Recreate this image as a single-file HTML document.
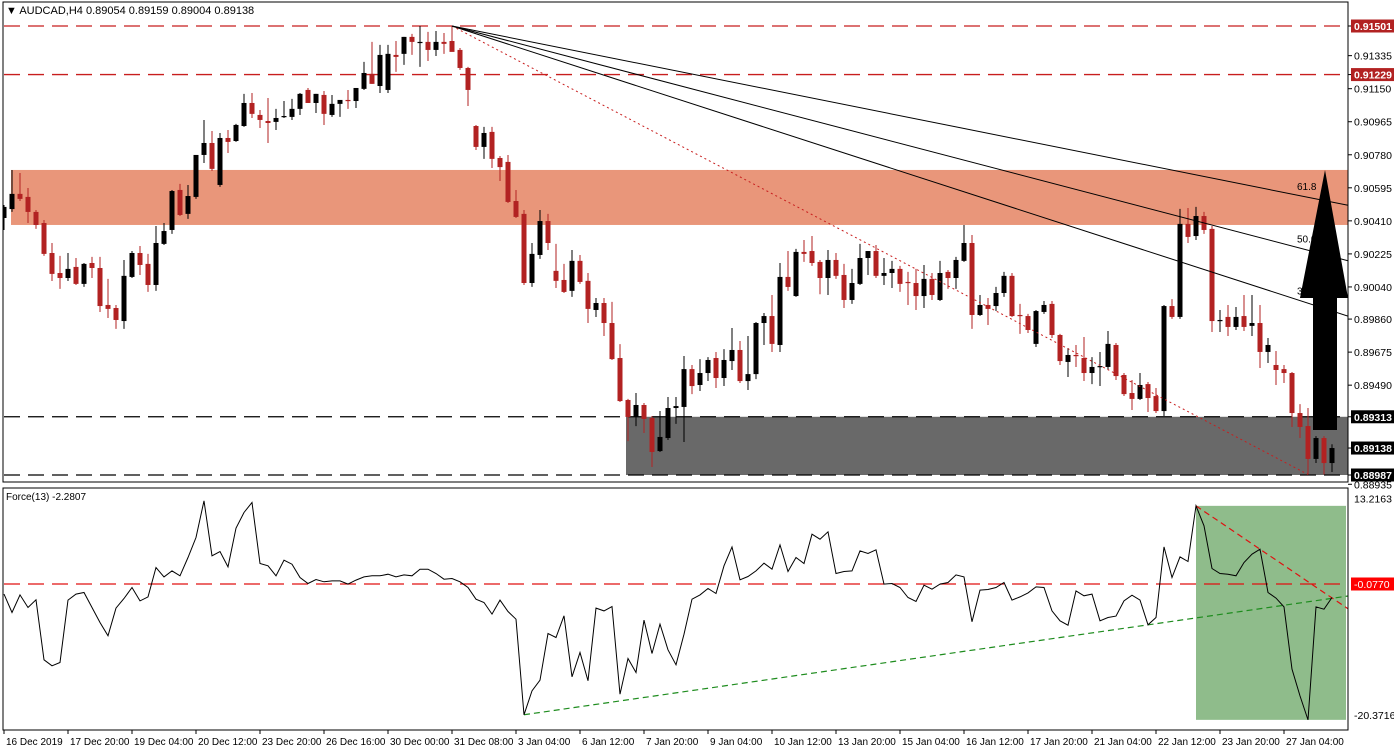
<!DOCTYPE html>
<html><head><meta charset="utf-8">
<style>
html,body{margin:0;padding:0;background:#fff;}
svg{display:block;font-family:"Liberation Sans","DejaVu Sans",sans-serif;}
</style></head>
<body>
<svg id="chart" width="1394" height="752" viewBox="0 0 1394 752" xmlns="http://www.w3.org/2000/svg">
<defs>
<clipPath id="pclip"><rect x="3" y="2" width="1345" height="480"/></clipPath>
<clipPath id="fclip"><rect x="3" y="488" width="1345" height="242"/></clipPath>
</defs>
<rect x="0" y="0" width="1394" height="752" fill="#fff"/>
<g id="priceBg" clip-path="url(#pclip)"></g>
<g id="priceMarks" clip-path="url(#pclip)"></g>
<g id="forceG" clip-path="url(#fclip)"></g>
<g id="axes"></g>
<text x="6" y="14" font-size="11" fill="#000">▼ AUDCAD,H4  0.89054 0.89159 0.89004 0.89138</text>
<text x="6" y="500" font-size="10" fill="#000">Force(13) -2.2807</text>
</svg>
<script>
const openP=[.90426,.90476,.90561,.90544,.90460,.90398,.90230,.90118,.90090,.90152,
.90057,.90174,.90146,.89939,.89922,.89849,.90096,.90230,.90169,.90051,
.90281,.90359,.90583,.90449,.90544,.90779,.90846,.90611,.90874,.90857,
.90941,.91070,.91003,.90969,.90964,.90992,.90992,.91037,.91143,.91070,
.91115,.91003,.91065,.91087,.91081,.91149,.91233,.91165,.91143,.91339,
.91345,.91440,.91406,.91412,.91367,.91412,.91417,.91367,.91266,.90941,
.90824,.90908,.90762,.90740,.90521,.90449,.90062,.90219,.90409,.90130,
.90079,.90018,.90186,.90074,.89911,.89950,.89838,.89642,.89407,.89312,
.89379,.89306,.89121,.89194,.89362,.89368,.89580,.89491,.89558,.89642,
.89530,.89625,.89687,.89513,.89552,.89838,.89877,.89715,.90096,.89989,
.90236,.90241,.90180,.90090,.90191,.90107,.89967,.90057,.90202,.90241,
.90102,.90118,.90141,.90068,.90062,.89989,.90085,.89967,.90124,.90090,
.90186,.90286,.89883,.89939,.89933,.90006,.90102,.89883,.89877,.89721,
.89900,.89945,.89771,.89620,.89659,.89642,.89558,.89592,.89592,.89715,
.89547,.89446,.89413,.89496,.89429,.89345,.89933,.89872,.90393,.90325,
.90437,.90365,.89849,.89872,.89816,.89877,.89822,.89838,.89676,.89603,
.89580,.89558,.89334,.89261,.89077,.89194,.89054];
const highP=[.90499,.90695,.90678,.90594,.90471,.90415,.90286,.90214,.90230,.90202,
.90174,.90208,.90208,.90085,.89939,.90191,.90241,.90269,.90225,.90381,
.90398,.90583,.90617,.90611,.90561,.90975,.90913,.90902,.90919,.90953,
.91121,.91126,.91031,.91098,.91037,.91081,.91093,.91126,.91154,.91121,
.91137,.91115,.91087,.91143,.91154,.91300,.91412,.91395,.91395,.91417,
.91440,.91457,.91501,.91468,.91473,.91462,.91501,.91378,.91272,.90947,
.90936,.90936,.90773,.90779,.90583,.90471,.90286,.90471,.90449,.90281,
.90169,.90247,.90219,.90118,.89978,.89978,.89956,.89720,.89413,.89446,
.89390,.89317,.89345,.89424,.89424,.89653,.89603,.89636,.89647,.89676,
.89692,.89810,.89737,.89765,.89844,.89894,.89995,.90174,.90241,.90253,
.90303,.90325,.90191,.90247,.90230,.90169,.90141,.90281,.90241,.90275,
.90202,.90186,.90158,.90124,.90141,.90163,.90118,.90186,.90135,.90208,
.90387,.90331,.89995,.89978,.90040,.90124,.90118,.89945,.89889,.89911,
.89961,.89961,.89777,.89698,.89715,.89760,.89647,.89676,.89793,.89726,
.89558,.89519,.89558,.89508,.89474,.89939,.89972,.90477,.90482,.90488,
.90460,.90381,.89911,.89939,.89928,.89995,.89995,.89939,.89754,.89681,
.89603,.89564,.89384,.89362,.89205,.89205,.89159];
const lowP=[.90359,.90460,.90521,.90398,.90365,.90214,.90073,.90029,.90073,.90051,
.90040,.90090,.89900,.89866,.89805,.89805,.90090,.90107,.90012,.90018,
.90275,.90337,.90437,.90421,.90533,.90734,.90689,.90600,.90790,.90852,
.90936,.90986,.90930,.90846,.90919,.90986,.90975,.91003,.91070,.91014,
.90947,.90992,.90992,.91037,.91042,.91143,.91177,.91126,.91126,.91244,
.91283,.91339,.91272,.91305,.91333,.91345,.91361,.91255,.91053,.90807,
.90757,.90706,.90633,.90510,.90426,.90051,.90040,.90197,.90247,.90034,
.90006,.89984,.90057,.89838,.89872,.89765,.89631,.89396,.89177,.89261,
.89222,.89032,.89116,.89183,.89273,.89172,.89440,.89457,.89513,.89474,
.89485,.89575,.89502,.89463,.89524,.89715,.89676,.89676,.90018,.89984,
.90180,.90158,.89999,.89995,.90085,.89922,.89945,.90051,.90107,.90090,
.90051,.90034,.90012,.89939,.89911,.89922,.89967,.89961,.90029,.90029,
.90180,.89805,.89877,.89827,.89905,.89984,.89872,.89777,.89782,.89704,
.89889,.89754,.89603,.89536,.89592,.89513,.89496,.89485,.89575,.89519,
.89429,.89351,.89407,.89340,.89334,.89317,.89861,.89861,.90286,.90303,
.90337,.89788,.89788,.89765,.89799,.89793,.89765,.89586,.89614,.89491,
.89502,.89256,.89194,.88990,.89054,.88990,.89004];
const closeP=[.90488,.90561,.90533,.90460,.90387,.90225,.90113,.90090,.90141,.90057,
.90169,.90146,.89933,.89917,.89855,.90102,.90230,.90163,.90051,.90286,
.90353,.90577,.90443,.90549,.90779,.90846,.90701,.90874,.90852,.90947,
.91070,.91009,.90975,.90958,.90986,.90997,.91037,.91121,.91070,.91121,
.91009,.91065,.91087,.91081,.91154,.91238,.91177,.91339,.91345,.91328,
.91440,.91412,.91412,.91367,.91412,.91401,.91356,.91266,.91143,.90824,
.90902,.90757,.90711,.90516,.90432,.90062,.90225,.90409,.90286,.90074,
.90012,.90186,.90068,.89917,.89950,.89838,.89636,.89401,.89312,.89379,
.89301,.89116,.89200,.89362,.89373,.89580,.89485,.89558,.89631,.89530,
.89631,.89687,.89513,.89552,.89838,.89877,.89721,.90096,.90040,.90236,
.90225,.90174,.90090,.90191,.90102,.89967,.90062,.90202,.90241,.90102,
.90118,.90141,.90057,.90062,.89989,.90085,.89995,.90118,.90090,.90191,
.90286,.89883,.89939,.89917,.90006,.90102,.89877,.89877,.89799,.89905,
.89939,.89771,.89625,.89659,.89653,.89558,.89592,.89597,.89721,.89541,
.89440,.89413,.89491,.89418,.89345,.89933,.89872,.90393,.90320,.90437,
.90359,.89849,.89855,.89816,.89872,.89816,.89838,.89676,.89715,.89575,
.89558,.89334,.89256,.89077,.89194,.89054,.89138];
const forceV=[-1.65,-4.5,-1.76,-3.72,-2.53,-11.83,-12.76,-12.25,-2.58,-1.65,
-1.40,-3.72,-6.05,-8.11,-3.82,-2.33,-0.62,-2.69,-2.07,2.48,
1.03,1.96,1.19,4.03,7.13,12.82,4.29,4.96,2.58,8.58,
11.01,12.56,3.10,2.74,1.19,3.62,3.00,0.93,0,0.62,
0.26,0.41,0.41,-0.10,0.52,1.03,1.19,1.19,1.45,1.03,
1.34,1.19,2.22,2.22,1.55,0.67,0.78,0.26,-0.62,-2.43,
-2.95,-4.75,-2.58,-4.34,-5.53,-20.35,-16.64,-14.99,-7.75,-8.37,
-5.01,-14.47,-10.70,-15.09,-3.82,-4.24,-3.57,-17.16,-11.63,-13.80,
-5.68,-10.85,-6.30,-10.28,-12.61,-7.86,-2.43,-1.76,-0.78,-1.55,
2.74,5.68,0.57,1.09,1.96,3.15,2.22,5.99,1.86,4.03,
3.10,7.65,6.87,8.01,1.55,1.86,1.96,5.06,4.65,5.22,
-0.10,0,-0.62,-2.17,-2.79,-0.26,-0.88,-0.10,0.16,1.34,
1.03,-5.94,-1.03,-0.93,-0.62,0.16,-2.58,-2.07,-1.45,-0.52,
-0.62,-4.24,-5.79,-6.46,-1.14,-1.91,-1.65,-5.79,-5.27,-5.06,
-2.69,-1.81,-2.58,-6.41,-5.27,5.68,0.93,4.13,3.41,12.04,
8.94,2.33,1.55,1.45,1.19,3.26,4.55,5.32,-1.40,-2.27,
-3.62,-13.28,-17.42,-21.14,-3.62,-3.98,-2.17];
const timeLabels=["16 Dec 2019","17 Dec 20:00","19 Dec 04:00","20 Dec 12:00","23 Dec 20:00","26 Dec 16:00","30 Dec 00:00","31 Dec 08:00","3 Jan 04:00","6 Jan 12:00","7 Jan 20:00","9 Jan 04:00","10 Jan 12:00","13 Jan 20:00","15 Jan 04:00","16 Jan 12:00","17 Jan 20:00","21 Jan 04:00","22 Jan 12:00","23 Jan 20:00","27 Jan 04:00"];
const priceTicks=[0.91335,0.91150,0.90965,0.90780,0.90595,0.90410,0.90225,0.90040,0.89860,0.89675,0.89490,0.88935];
const resistanceLevels=[0.91501,0.91229];
const supplyZone=[0.90695,0.90387];
const supportZone=[0.89313,0.88987];
const currentPrice=0.89138;
const forceTicks=[13.2163,-20.3716];
const forceLevel=-0.0770;
const fanRatios=[0.618,0.5,0.382];
const highlightFrom=140;

const NS="http://www.w3.org/2000/svg";
const X0=4,DX=8,PR=1348;
function xOf(i){return X0+DX*i;}
function yP(p){return 26+(0.91501-p)*17860;}
function yF(v){return 584-(v-forceLevel)*6.45;}
function mk(tag,attrs,parent){const e=document.createElementNS(NS,tag);for(const k in attrs)e.setAttribute(k,attrs[k]);parent.appendChild(e);return e;}
const bg=document.getElementById('priceBg'),pm=document.getElementById('priceMarks'),fg=document.getElementById('forceG'),ax=document.getElementById('axes');

let z=mk('rect',{x:11,y:yP(supplyZone[0]),width:PR-11,height:yP(supplyZone[1])-yP(supplyZone[0]),fill:'#E9967A'},bg);


let gz=mk('rect',{x:626,y:yP(supportZone[0]),width:PR-626,height:yP(supportZone[1])-yP(supportZone[0]),fill:'#696969'},bg);


resistanceLevels.forEach(p=>{
  const l=mk('line',{x1:4,x2:PR,y1:yP(p),y2:yP(p),stroke:'#C81E1E','stroke-width':1.3,'stroke-dasharray':'16,8'},bg);
  
  
});
supportZone.forEach(p=>{
  const l=mk('line',{x1:4,x2:PR,y1:yP(p),y2:yP(p),stroke:'#000','stroke-width':1.2,'stroke-dasharray':'16,8'},bg);
  
  
});

for(let i=0;i<closeP.length;i++){
  const x=xOf(i),o=openP[i],c=closeP[i],up=c>=o,col=up?'#000':'#B22222';
  const g=mk('g',{},pm);
  
  
  mk('line',{x1:x,x2:x,y1:yP(highP[i]),y2:yP(lowP[i]),stroke:col,'stroke-width':1},g);
  const t=Math.min(yP(o),yP(c)),h=Math.max(1.2,Math.abs(yP(o)-yP(c)));
  mk('rect',{x:x-2.5,y:t,width:5,height:h,fill:col},g);
}

const hi=56,lo=163;
const fx1=xOf(hi),fy1=yP(highP[hi]),fx2=xOf(lo),fy2=yP(lowP[lo]);
let rd=mk('line',{x1:fx1,y1:fy1,x2:fx2,y2:fy2,stroke:'#C81E1E','stroke-width':1,'stroke-dasharray':'2,3'},pm);


fanRatios.forEach((r,k)=>{
  const ye=fy1+(fy2-fy1)*(1-r);
  const slope=(ye-fy1)/(fx2-fx1);
  const l=mk('line',{x1:fx1,y1:fy1,x2:PR,y2:fy1+slope*(PR-fx1),stroke:'#000','stroke-width':1},pm);
  
  
  const t=mk('text',{x:1297,y:fy1+slope*(1297-fx1)-5,'font-size':10,fill:'#000'},pm);
  t.textContent=(r*100).toFixed(1);
  
  
});

let ar=mk('polygon',{points:'1313,430 1337,430 1337,298 1348,298 1325,170 1300,298 1313,298',fill:'#000'},pm);



const tail=forceV.slice(highlightFrom);
const fMax=Math.max(...tail),fMin=Math.min(...tail);
const bi=highlightFrom+tail.indexOf(fMax);
let gb=mk('rect',{x:xOf(bi),y:yF(fMax),width:1346-xOf(bi),height:yF(fMin)-yF(fMax),fill:'#8FBC8B'},fg);


let fl=mk('line',{x1:4,x2:PR,y1:yF(forceLevel),y2:yF(forceLevel),stroke:'#E01010','stroke-width':1.2,'stroke-dasharray':'16,8'},fg);


function trend(a,b,col,name){
  const s=(yF(forceV[b])-yF(forceV[a]))/(xOf(b)-xOf(a));
  const l=mk('line',{x1:xOf(a),y1:yF(forceV[a]),x2:PR,y2:yF(forceV[a])+s*(PR-xOf(a)),stroke:col,'stroke-width':1.2,'stroke-dasharray':'6,4'},fg);
  
  
}
trend(65,143,'#1E8C1E','force-support-trendline');
trend(149,157,'#E01010','force-resistance-trendline');
let pts=forceV.map((v,i)=>xOf(i)+','+yF(v).toFixed(1)).join(' ');
let fp=mk('polyline',{points:pts,fill:'none',stroke:'#000','stroke-width':1},fg);



mk('rect',{x:3,y:2,width:PR-3,height:480,fill:'none',stroke:'#000','stroke-width':1},ax);
mk('rect',{x:3,y:488,width:PR-3,height:242,fill:'none',stroke:'#000','stroke-width':1},ax);

function plabel(p,bgc,name){
  const y=yP(p);
  mk('line',{x1:PR,x2:PR+4,y1:y,y2:y,stroke:'#000'},ax);
  if(bgc){const r=mk('rect',{x:PR+3,y:y-6.5,width:45,height:13,fill:bgc},ax);
    
    }
  const t=mk('text',{x:PR+6,y:y+4,'font-size':10.5,fill:bgc?'#fff':'#000','font-weight':bgc?'bold':'normal'},ax);
  t.textContent=p.toFixed(5);
  
  
}
priceTicks.forEach(p=>plabel(p,null,'price-tick'));
resistanceLevels.forEach(p=>plabel(p,'#B22222','resistance-label'));
supportZone.forEach(p=>plabel(p,'#000','support-label'));
plabel(currentPrice,'#000','current-price-label');

forceTicks.forEach(v=>{
  const y=yF(v);
  const t=mk('text',{x:PR+6,y:y+4,'font-size':10.5,fill:'#000'},ax);
  t.textContent=v.toFixed(4);
  
  
});
(function(){const y=yF(forceLevel);
  const r=mk('rect',{x:PR+3,y:y-6.5,width:45,height:13,fill:'#FF0000'},ax);
  
  
  const t=mk('text',{x:PR+6,y:y+4,'font-size':10.5,fill:'#fff'},ax);
  t.textContent=forceLevel.toFixed(4);
  
  })();

timeLabels.forEach((s,k)=>{
  const x=xOf(k*8);
  mk('line',{x1:x,x2:x,y1:730,y2:734,stroke:'#000'},ax);
  const t=mk('text',{x:x+2,y:745,'font-size':10,fill:'#000'},ax);
  t.textContent=s;
  
  
});
</script>
</body></html>
